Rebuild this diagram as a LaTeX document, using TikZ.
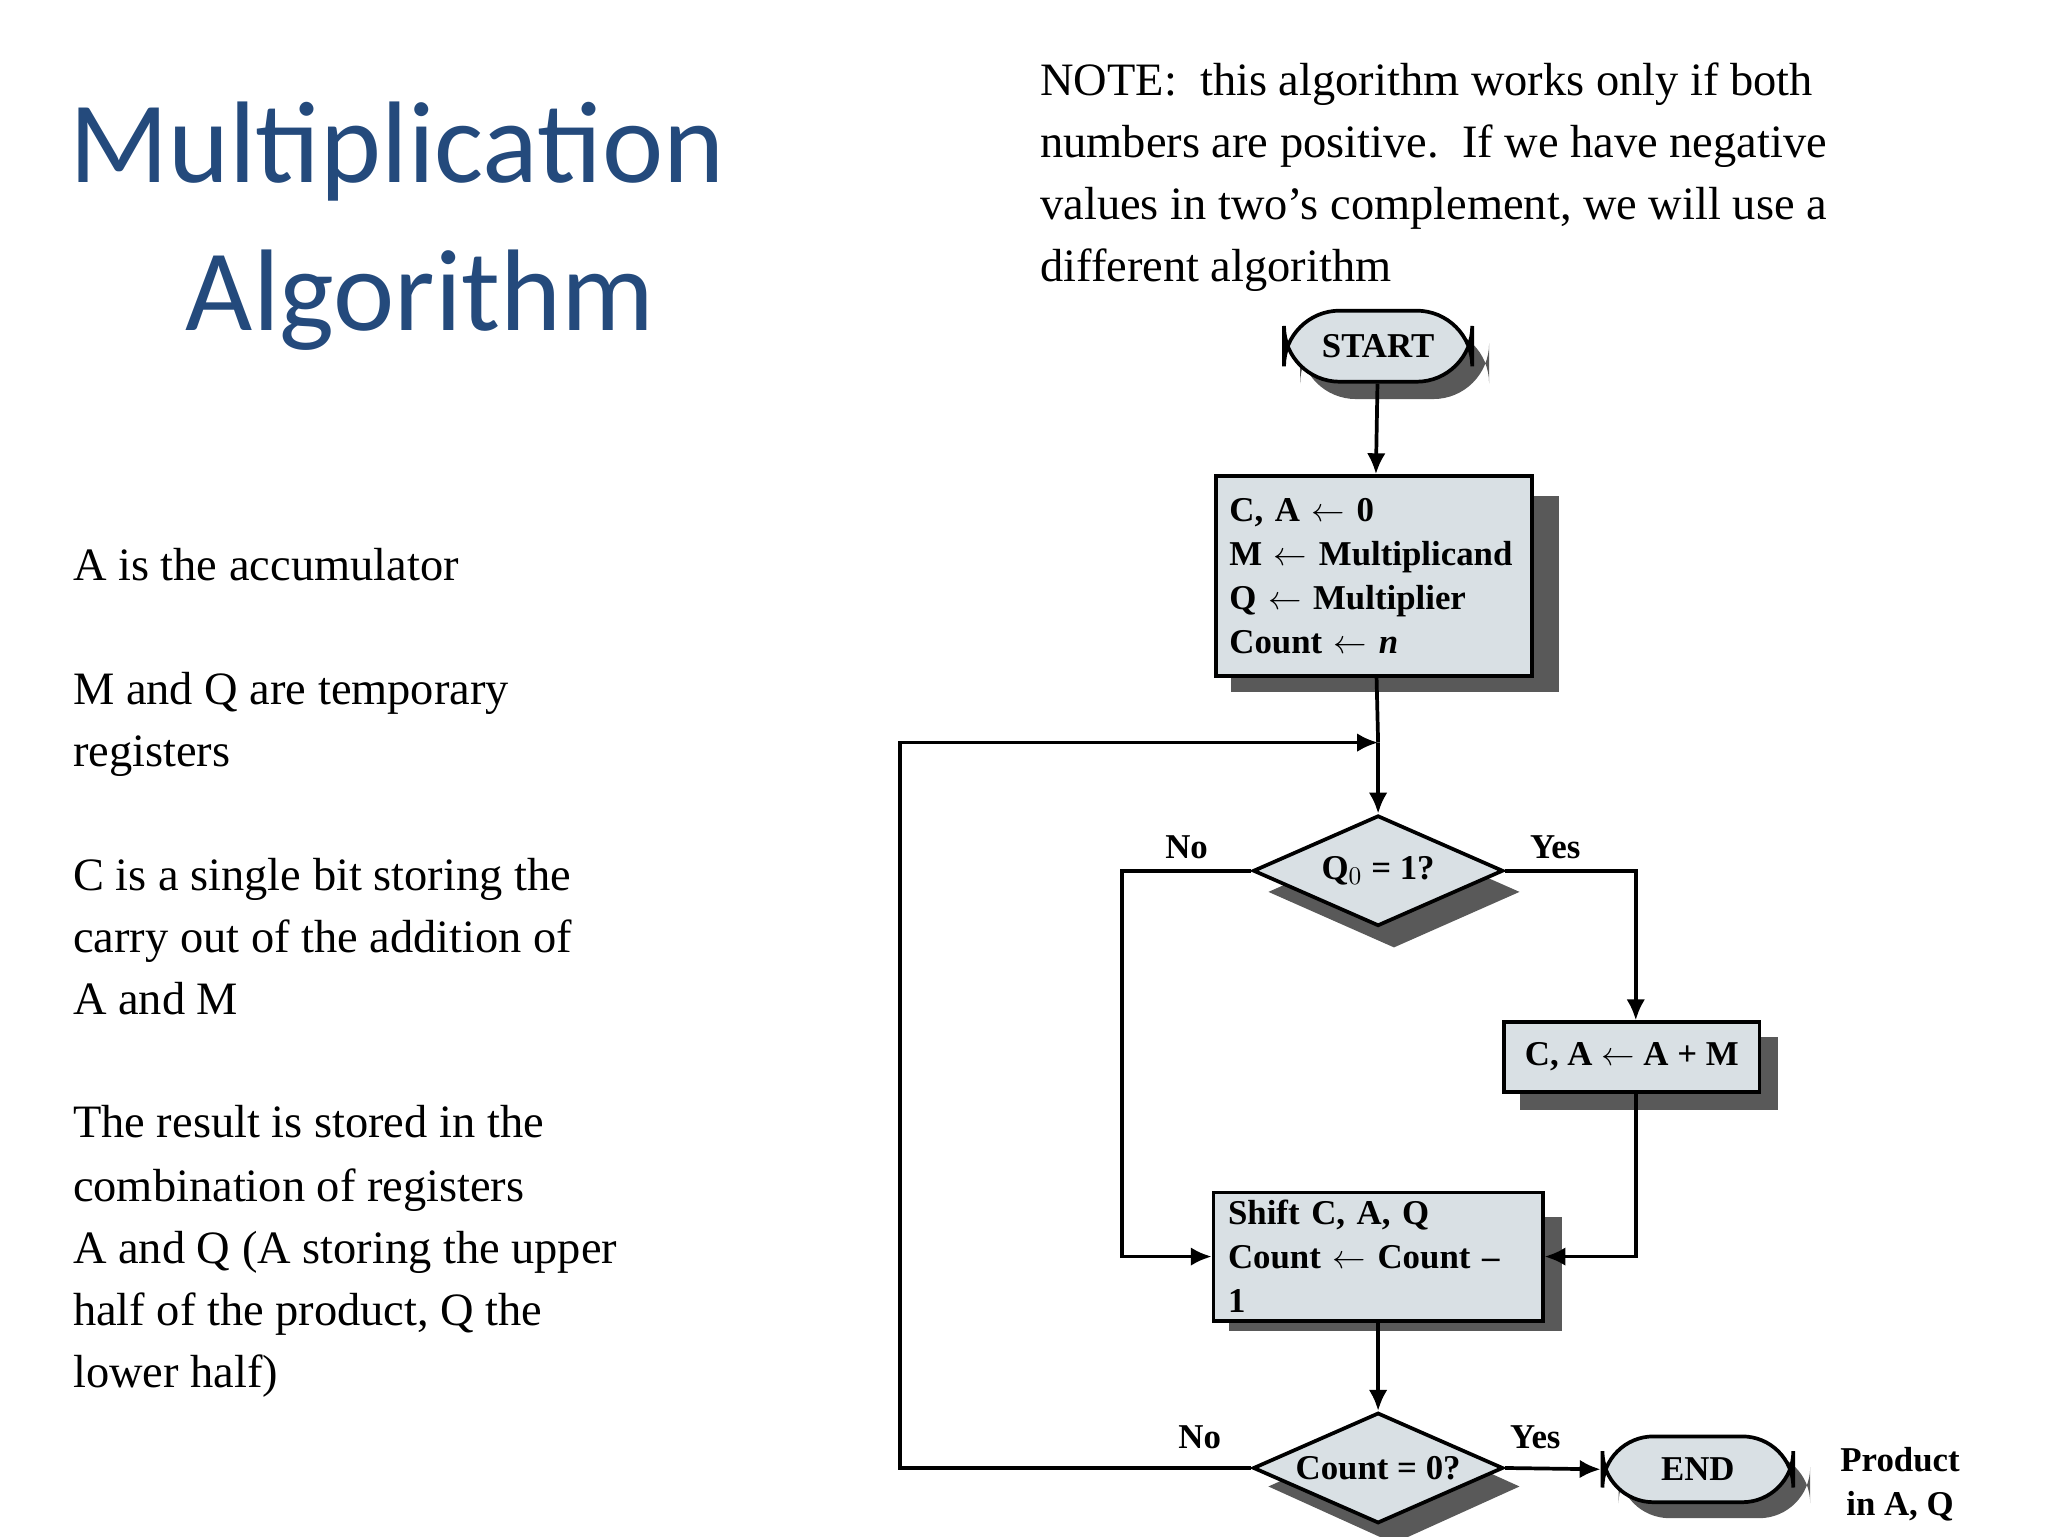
\documentclass[tikz,border=0pt]{standalone}
\usepackage{fontspec}
\setmainfont{Liberation Serif}
\newfontfamily\titlefont{Carlito}
\usetikzlibrary{shapes.geometric,arrows.meta}
\definecolor{boxfill}{HTML}{D9E0E4}
\definecolor{titleblue}{HTML}{244A7C}
\begin{document}
\begin{tikzpicture}[x=0.02cm,y=-0.02cm,
  txt/.style={anchor=base west,inner sep=0,font=\fontsize{20}{24}\selectfont},
  fl/.style={font=\bfseries\fontsize{15}{19}\selectfont},
  shad/.style={fill=black!65,draw=none},
  box/.style={fill=boxfill,draw=black,line width=1.6pt},
  con/.style={line width=1.6pt,-{Latex[length=9pt,width=8pt]}},
  lin/.style={line width=1.6pt}]
\useasboundingbox (0,0) rectangle (1550,1162.5);
% title
\node[anchor=base west,inner sep=0,text=titleblue,font=\titlefont\fontsize{50}{60}\selectfont] (t1) at (52,138) {Multiplication};
\node[anchor=base,inner sep=0,text=titleblue,font=\titlefont\fontsize{50}{60}\selectfont] (t2) at (318,250) {Algorithm};
% note
\node[txt] (n1) at (787,72) {NOTE:\ \ this algorithm works only if both};
\node[txt] (n2) at (787,119) {numbers are positive.\ \ If we have negative};
\node[txt] (n3) at (787,166) {values in two’s complement, we will use a};
\node[txt] (n4) at (787,213) {different algorithm};
% left text
\node[txt] (l1) at (55,439) {A is the accumulator};
\node[txt] (l2) at (55,533) {M and Q are temporary};
\node[txt] (l3) at (55,580) {registers};
\node[txt] (l4) at (55,674) {C is a single bit storing the};
\node[txt] (l5) at (55,721) {carry out of the addition of};
\node[txt] (l6) at (55,768) {A and M};
\node[txt] (l7) at (55,861) {The result is stored in the};
\node[txt] (l8) at (55,909) {combination of registers};
\node[txt] (l9) at (55,956) {A and Q (A storing the upper};
\node[txt] (l10) at (55,1003) {half of the product, Q the};
\node[txt] (l11) at (55,1050) {lower half)};
% shadows
\fill[shad,rounded corners=24] (984,248) rectangle (1127,302);
\fill[shad] (932,375) rectangle (1180,524);
\fill[shad] (1150,785) rectangle (1346,840);
\fill[shad] (930,921) rectangle (1182,1007);
\fill[shad,rounded corners=22] (1225,1099) rectangle (1370,1149);
\fill[shad] (1055,633) -- (1150,675) -- (1055,717) -- (960,675) -- cycle;
\fill[shad] (1055,1082) -- (1150,1125) -- (1055,1168) -- (960,1125) -- cycle;
% nodes
\node[box,rounded corners=24,minimum width=143*0.567pt,minimum height=54*0.567pt,fl] (start) at (1043,262) {START};
\node[box,minimum width=240*0.567pt,minimum height=152*0.567pt,fl,align=left,text width=220*0.567pt] (init) at (1040,436)
 {C, A $\leftarrow$ 0\\M $\leftarrow$ Multiplicand\\Q $\leftarrow$ Multiplier\\Count $\leftarrow$ \textit{n}};
\node[box,diamond,aspect=2.26,minimum width=190*0.567pt,minimum height=84*0.567pt,inner sep=0,fl] (d1) at (1043,659) {Q$_0$ = 1?};
\node[box,minimum width=194*0.567pt,minimum height=53*0.567pt,fl] (add) at (1235,800) {C, A $\leftarrow$ A + M};
\node[box,minimum width=250*0.567pt,minimum height=84*0.567pt,fl,align=left,text width=228*0.567pt] (shift) at (1043,951)
 {Shift C, A, Q\\Count $\leftarrow$ Count -- 1};
\node[box,diamond,aspect=2.26,minimum width=190*0.567pt,minimum height=84*0.567pt,inner sep=0,fl] (d2) at (1043,1111) {Count = 0?};
\node[box,rounded corners=22,minimum width=145*0.567pt,minimum height=50*0.567pt,fl] (end) at (1285,1112) {END};
\node[fl,align=center] (prod) at (1438,1123) {Product\\in A, Q};
% labels
\node[fl] (no1) at (898,641) {No};
\node[fl] (yes1) at (1177,641) {Yes};
\node[fl] (no2) at (908,1088) {No};
\node[fl] (yes2) at (1162,1088) {Yes};
% connectors
\coordinate (join) at (1043,562);
\draw[con] (start) -- (init);
\draw[lin] (init) -- (join);
\draw[con] (join) -- (d1);
\draw[con] (d1.east) -| (add.north -| 1238,0);
\draw[con] (d1.west) -| (849,951) -- (shift.west);
\draw[con] (add.south -| 1238,0) |- (shift.east);
\draw[con] (shift) -- (d2);
\draw[con] (d2.east) -- (end.west);
\draw[con] (d2.west) -| (681,562) -- (join);
\end{tikzpicture}
\end{document}
